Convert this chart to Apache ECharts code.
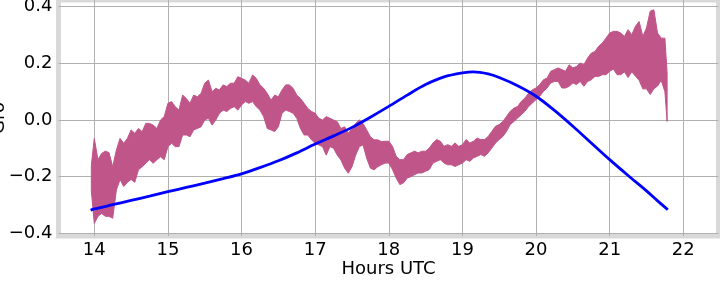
<!DOCTYPE html>
<html>
<head>
<meta charset="utf-8">
<script src="https://cdn.jsdelivr.net/npm/echarts@6/dist/echarts.min.js"></script>
<style>
html,body{margin:0;padding:0;background:#fff;}
#c{width:720px;height:288px;}
</style>
</head>
<body>
<div id="c"></div>
<script>
// Measured signal: time (hours UTC), upper and lower envelope of the noisy trace
const hours = [13.96,14.00,14.05,14.10,14.15,14.20,14.25,14.30,14.35,14.40,14.45,14.50,14.55,14.60,14.65,14.70,14.75,14.80,14.85,14.90,14.95,
15.00,15.05,15.10,15.15,15.20,15.25,15.30,15.35,15.40,15.45,15.50,15.55,15.60,15.65,15.70,15.75,15.80,15.85,15.90,15.95,
16.00,16.05,16.10,16.15,16.20,16.25,16.30,16.35,16.40,16.45,16.50,16.55,16.60,16.65,16.70,16.75,16.80,16.85,16.90,16.95,
17.00,17.05,17.10,17.15,17.20,17.25,17.30,17.35,17.40,17.45,17.50,17.55,17.60,17.65,17.70,17.75,17.80,17.85,17.90,17.95,
18.00,18.05,18.10,18.15,18.20,18.25,18.30,18.35,18.40,18.45,18.50,18.55,18.60,18.65,18.70,18.75,18.80,18.85,18.90,18.95,
19.00,19.05,19.10,19.15,19.20,19.25,19.30,19.35,19.40,19.45,19.50,19.55,19.60,19.65,19.70,19.75,19.80,19.85,19.90,19.95,
20.00,20.05,20.10,20.15,20.20,20.25,20.30,20.35,20.40,20.45,20.50,20.55,20.60,20.65,20.70,20.75,20.80,20.85,20.90,20.95,
21.00,21.05,21.10,21.15,21.20,21.25,21.30,21.35,21.40,21.45,21.50,21.55,21.60,21.65,21.70,21.75,21.78];
const upper = [-0.16,-0.065,-0.14,-0.118,-0.11,-0.115,-0.165,-0.106,-0.065,-0.082,-0.065,-0.035,-0.047,-0.03,-0.041,-0.012,-0.012,-0.018,-0.03,0.0,0.012,
0.059,0.065,0.047,0.035,0.088,0.076,0.059,0.088,0.082,0.094,0.13,0.141,0.10,0.112,0.106,0.124,0.118,0.13,0.13,0.153,
0.147,0.141,0.13,0.159,0.147,0.124,0.112,0.094,0.07,0.088,0.082,0.106,0.124,0.124,0.112,0.088,0.076,0.059,0.041,0.03,
0.024,0.006,0.0,0.012,0.006,0.0,-0.006,-0.03,-0.024,-0.047,-0.03,-0.012,0.0,-0.012,-0.035,-0.059,-0.07,-0.07,-0.076,-0.075,
-0.075,-0.093,-0.128,-0.14,-0.14,-0.122,-0.116,-0.11,-0.116,-0.11,-0.11,-0.099,-0.081,-0.069,-0.075,-0.093,-0.087,-0.093,-0.081,-0.093,
-0.087,-0.069,-0.081,-0.075,-0.064,-0.069,-0.069,-0.058,-0.04,-0.022,-0.016,-0.005,0.013,0.031,0.042,0.048,0.066,0.078,0.095,0.107,
0.113,0.125,0.142,0.148,0.172,0.178,0.184,0.178,0.172,0.195,0.184,0.189,0.201,0.195,0.219,0.236,0.242,0.26,0.272,0.289,
0.307,0.313,0.313,0.307,0.295,0.319,0.301,0.331,0.348,0.295,0.325,0.384,0.389,0.307,0.289,0.289,0.166];
const lower = [-0.25,-0.365,-0.34,-0.33,-0.34,-0.34,-0.347,-0.247,-0.21,-0.235,-0.22,-0.21,-0.22,-0.176,-0.165,-0.153,-0.14,-0.153,-0.14,-0.13,-0.14,
-0.094,-0.082,-0.094,-0.094,-0.053,-0.053,-0.059,-0.035,-0.03,-0.024,0.0,0.006,-0.018,0.0,0.024,0.035,0.03,0.041,0.047,0.035,
0.053,0.065,0.059,0.065,0.047,0.035,0.012,-0.03,-0.035,-0.041,-0.024,0.024,0.035,0.03,0.024,0.006,-0.03,-0.053,-0.053,-0.07,
-0.082,-0.088,-0.094,-0.124,-0.094,-0.10,-0.124,-0.141,-0.17,-0.188,-0.165,-0.124,-0.094,-0.088,-0.135,-0.17,-0.176,-0.165,-0.158,-0.152,
-0.152,-0.175,-0.205,-0.228,-0.222,-0.205,-0.20,-0.193,-0.187,-0.187,-0.181,-0.175,-0.152,-0.146,-0.14,-0.152,-0.158,-0.158,-0.164,-0.158,
-0.152,-0.14,-0.146,-0.134,-0.128,-0.122,-0.128,-0.116,-0.099,-0.081,-0.069,-0.058,-0.04,-0.016,-0.005,0.007,0.019,0.031,0.048,0.06,
0.072,0.084,0.101,0.113,0.131,0.136,0.136,0.113,0.113,0.119,0.131,0.125,0.136,0.119,0.136,0.142,0.154,0.154,0.16,0.16,
0.172,0.18,0.16,0.16,0.17,0.15,0.17,0.155,0.14,0.11,0.11,0.09,0.11,0.12,0.14,0.10,-0.005];

// Model curve
const modelHours = [13.95,14.0,14.25,14.5,14.75,15.0,15.25,15.5,15.75,16.0,16.25,16.5,16.75,17.0,17.25,17.5,17.75,18.0,18.25,18.5,18.75,19.0,19.15,19.35,19.5,19.75,20.0,20.25,20.5,20.75,21.0,21.25,21.5,21.64,21.79];
const modelValues = [-0.318,-0.314,-0.299,-0.284,-0.269,-0.253,-0.238,-0.223,-0.207,-0.19,-0.168,-0.144,-0.116,-0.085,-0.056,-0.026,0.010,0.048,0.088,0.125,0.152,0.166,0.170,0.163,0.150,0.121,0.084,0.034,-0.022,-0.081,-0.14,-0.196,-0.250,-0.283,-0.317];

const xTicks = [14,15,16,17,18,19,20,21,22];
const yTicks = [-0.4,-0.2,0.0,0.2,0.4];

const MAG = '#c0558a';
const FONT = 'DejaVu Sans';

const bandData = hours.map((h,i)=>[h, lower[i], upper[i]]);
const modelData = modelHours.map((h,i)=>[h, modelValues[i]]);

function renderBand(params, api){
  if (params.dataIndex !== 0) return null;
  const top = [], bot = [];
  for (let i = 0; i < bandData.length; i++) {
    top.push(api.coord([bandData[i][0], bandData[i][2]]));
    bot.push(api.coord([bandData[i][0], bandData[i][1]]));
  }
  const pts = top.concat(bot.reverse());
  return {
    type:'polygon',
    shape:{points:pts},
    style:{fill:MAG, stroke:MAG, lineWidth:1}
  };
}

const chart = echarts.init(document.getElementById('c'), null, {renderer:'canvas'});
chart.setOption({
  animation:false,
  backgroundColor:'#ffffff',
  grid:{left:58.5, right:1.5, top:0, bottom:52, show:true, borderColor:'#d9d9d9', borderWidth:5,
        backgroundColor:'transparent', containLabel:false, outerBoundsMode:'none'},
  xAxis:{
    type:'value', min:13.514, max:22.478, splitNumber:9,
    name:'Hours UTC', nameLocation:'middle', nameGap:24, nameMoveOverlap:false,
    nameTextStyle:{fontFamily:FONT, fontSize:18, color:'#000'},
    axisLine:{show:false}, axisTick:{show:false},
    axisLabel:{fontFamily:FONT, fontSize:18, color:'#000', margin:5, showMinLabel:false, showMaxLabel:false,
      formatter:v=> xTicks.indexOf(Math.round(v*1000)/1000) >= 0 ? String(Math.round(v)) : ''},
    splitLine:{show:true, showMinLine:false, showMaxLine:false, lineStyle:{color:'#b0b0b0', width:1}}
  },
  yAxis:{
    type:'value', min:-0.4095, max:0.4237, splitNumber:4,
    name:'Gro', nameLocation:'middle', nameGap:50, nameRotate:90, nameMoveOverlap:false,
    nameTextStyle:{fontFamily:FONT, fontSize:18, color:'#000'},
    axisLine:{show:false}, axisTick:{show:false},
    axisLabel:{fontFamily:FONT, fontSize:18, color:'#000', margin:6, showMinLabel:false, showMaxLabel:false,
      formatter:v=>{
        const r = Math.round(v*10)/10;
        if (!yTicks.some(t=>Math.abs(t-r)<1e-9) || Math.abs(v-r)>1e-6) return '';
        return r.toFixed(1).replace('-','\u2212');
      }},
    splitLine:{show:true, showMinLine:false, showMaxLine:false, lineStyle:{color:'#b0b0b0', width:1}}
  },
  series:[
    {type:'custom', name:'signal', data:bandData, renderItem:renderBand, clip:true,
     encode:{x:0, y:[1,2]}, z:2},
    {type:'line', name:'model', data:modelData, symbol:'none', smooth:0.3,
     lineStyle:{color:'#0000ff', width:2.8}, z:3}
  ]
});
</script>
</body>
</html>
